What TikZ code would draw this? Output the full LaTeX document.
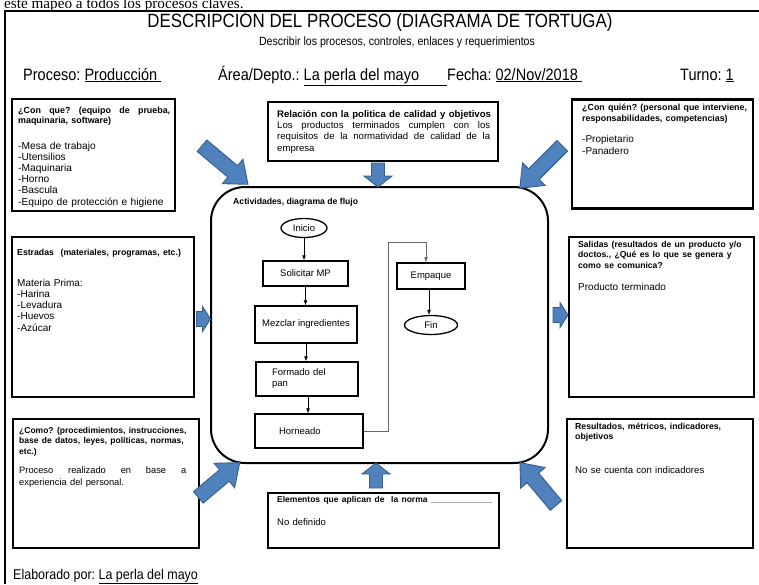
\documentclass[tikz,border=0pt]{standalone}
\usepackage{fontspec}
\setmainfont{Liberation Sans}
\newfontfamily\narrowf[FakeStretch=0.88]{Liberation Sans}
\newfontfamily\seriff{Liberation Serif}
\usetikzlibrary{arrows.meta,shapes.geometric}
\definecolor{arrowfill}{HTML}{4F81BD}
\definecolor{arrowline}{HTML}{385D8A}
\newcommand\fs[2]{\fontsize{#1}{#2}\selectfont}
\newcommand\jline[2]{\leavevmode\hbox to #1pt{\spaceskip=.278em plus 1fil\xspaceskip=.278em plus 1fil\relax #2\unskip}}
\newcommand\barrow[7]{%
  \begin{scope}[shift={(#1,#2)},rotate=#3]
    \filldraw[bluearrow] ({-#4/2},{-#5}) -- ({#4/2-#7},{-#5}) -- ({#4/2-#7},{-#6}) -- ({#4/2},0) -- ({#4/2-#7},{#6}) -- ({#4/2-#7},{#5}) -- ({-#4/2},{#5}) -- cycle;
  \end{scope}}
\tikzset{
  bluearrow/.style={fill=arrowfill, draw=arrowline, line width=0.9},
  obox/.style={draw, line width=2.2, inner sep=0},
  btext/.style={anchor=base west, inner sep=0, align=left, font=\bfseries},
  fbox/.style={draw, line width=1.3, inner sep=0, font={\fs{9.5}{11}}},
  fell/.style={ellipse, draw, line width=1.3, inner sep=0, font={\fs{9.5}{11}}},
  flow/.style={-{Latex[length=5pt,width=4pt]}, line width=0.8},
  conn/.style={-{Latex[length=5pt,width=4pt]}, line width=0.7, draw=black!60},
  hdr/.style={inner sep=0, font={\narrowf\fs{16.5}{18}}}
}
\begin{document}
\frenchspacing\hyphenpenalty=10000\exhyphenpenalty=10000
\begin{tikzpicture}[x=1pt,y=-1pt]
\useasboundingbox (0,0) rectangle (759,584);
\fill[white] (0,0) rectangle (759,584);
% clipped line of text above the frame
\begin{scope}
\clip (0,0) rectangle (759,584);
\node[anchor=base west, inner sep=0] (cut) at (4,8) {\seriff\fs{15.2}{16}este mapeo a todos los procesos claves.};
\end{scope}
% outer frame (left and top edges)
\draw[line width=1.5] (5,584) -- (5,11) -- (759,11);
% header
\node[anchor=base, inner sep=0] (title) at (380,27) {\narrowf\fs{19.2}{20}DESCRIPCIÓN DEL PROCESO (DIAGRAMA DE TORTUGA)};
\node[anchor=base, inner sep=0] (sub) at (397,45) {\narrowf\fs{12}{13}Describir los procesos, controles, enlaces y requerimientos};
\node[hdr, anchor=base west] (proc) at (23,80) {Proceso: \underline{Producción\ }};
\node[hdr, anchor=base west] (area) at (218,80) {Área/Depto.: \underline{La perla del mayo\hspace{28pt}}Fecha: \underline{02/Nov/2018\ }};
\node[hdr, anchor=base west] (turno) at (680,80) {Turno: \underline{1}};
\node[anchor=base west, inner sep=0] (elab) at (13,579) {\narrowf\fs{14.2}{16}Elaborado por: \underline{La perla del mayo}};
% outer boxes
\node[obox, minimum width=163, minimum height=112] (tl) at (93.5,155) {};
\node[obox, minimum width=230, minimum height=59] (tm) at (383,131.5) {};
\node[obox, minimum width=181, minimum height=109] (tr) at (662.5,154) {};
\node[obox, minimum width=182, minimum height=160] (ml) at (103,317) {};
\node[obox, minimum width=185, minimum height=160] (mr) at (661.5,317) {};
\node[obox, minimum width=186, minimum height=129] (bl) at (106,483.5) {};
\node[obox, minimum width=231, minimum height=55] (bm) at (383.5,520.5) {};
\node[obox, minimum width=186, minimum height=129] (br) at (660,483.5) {};
% box texts
\node[btext, text width=156] (tlt) at (18,113) {\fs{8.9}{10.8}\jline{152}{¿Con que? (equipo de prueba,}\\maquinaria, software)\\[15.2pt]{\mdseries\fs{10.2}{10.8}-Mesa de trabajo\\-Utensilios\\-Maquinaria\\-Horno\\-Bascula\\-Equipo de protección e higiene}};
\node[btext, text width=216] (tmt) at (277,117) {\fs{9.6}{11.3}Relación con la politica de calidad y objetivos\\{\mdseries\jline{213}{Los productos terminados cumplen con los}\\\jline{213}{requisitos de la normatividad de calidad de la}\\empresa}};
\node[btext, text width=172] (trt) at (582,110.5) {\fs{8.85}{10.8}¿Con quién? (personal que interviene,\\responsabilidades, competencias)\\[10pt]{\mdseries\fs{10}{10.8}-Propietario\\-Panadero}};
\node[btext, text width=174] (mlt) at (17,255.5) {\fs{8.7}{10.9}Estradas\ \ (materiales, programas, etc.)\\[20pt]{\mdseries\fs{10}{10.9}Materia Prima:\\-Harina\\-Levadura\\-Huevos\\-Azúcar}};
\node[btext, text width=174] (mrt) at (578,247) {\fs{8.6}{10.5}Salidas (resultados de un producto y/o\\doctos., ¿Qué es lo que se genera y\\como se comunica?\\[10.5pt]{\mdseries\fs{10}{10.5}Producto terminado}};
\node[btext, text width=176] (blt) at (19,433) {\fs{8.5}{10.8}¿Como? (procedimientos, instrucciones,\\base de datos, leyes, políticas, normas,\\etc.)\\[7.7pt]{\mdseries\fs{9.3}{10.8}\jline{167}{Proceso realizado en base a}\\experiencia del personal.}};
\node[btext, text width=225] (bmt) at (277,502) {\fs{8.5}{11}Elementos que aplican de\ \ la norma \_\_\_\_\_\_\_\_\_\_\_\_\_\\[11pt]{\mdseries\fs{9.5}{11}No definido}};
\node[btext, text width=174] (brt) at (575,429) {\fs{8.7}{10.5}Resultados, métricos, indicadores,\\objetivos\\[21.5pt]{\mdseries\fs{9.6}{10.5}No se cuenta con indicadores}};
% central rounded box
\node[draw, line width=2, rounded corners=34, minimum width=337, minimum height=276, inner sep=0] (act) at (379.5,325) {};
\node[anchor=base west, inner sep=0, font={\bfseries\fs{8.65}{10}}] (actl) at (233,204) {Actividades, diagrama de flujo};
% flowchart
\node[fell, minimum width=46, minimum height=19] (inicio) at (304,228) {Inicio};
\node[fbox, minimum width=85, minimum height=25] (solicitar) at (305.5,273.5) {Solicitar MP};
\node[fbox, minimum width=102, minimum height=37] (mezclar) at (306,324.5) {Mezclar ingredientes};
\node[fbox, minimum width=102, minimum height=34, text width=70, align=left] (formado) at (307,379) {Formado del\\pan};
\node[fbox, minimum width=108, minimum height=34, text width=60, align=left] (horneado) at (309,431) {Horneado};
\node[fbox, minimum width=68, minimum height=26] (empaque) at (431,276) {Empaque};
\node[fell, minimum width=53, minimum height=19] (fin) at (431,325) {Fin};
\coordinate (turn) at (388,242);
\draw[flow] (inicio.south) -- (inicio.south |- solicitar.north);
\draw[flow] (solicitar.south) -- (solicitar.south |- mezclar.north);
\draw[flow] (mezclar.south) -- (mezclar.south |- formado.north);
\draw[flow] ([xshift=1pt]formado.south) -- ([xshift=1pt]formado.south |- horneado.north);
\draw[conn] (horneado.east) -| (turn) -| ([xshift=-5pt]empaque.north);
\draw[flow] ([xshift=-2pt]empaque.south) -- ([xshift=-2pt]empaque.south |- fin.north);
% blue block arrows
\barrow{225}{165}{-40}{60}{7.5}{16}{20}
\barrow{378}{175}{-90}{24}{6.5}{14}{11}
\barrow{541}{167}{-135}{60}{7.5}{16}{20}
\barrow{203.5}{319}{0}{14}{7.5}{12.5}{8}
\barrow{560.5}{315}{0}{15}{7.5}{12.5}{8}
\barrow{219}{480}{40}{54}{7.5}{16}{20}
\barrow{376}{475.5}{90}{25}{6.5}{14}{11}
\barrow{538}{484}{130}{56}{7.5}{16}{20}
\end{tikzpicture}
\end{document}
